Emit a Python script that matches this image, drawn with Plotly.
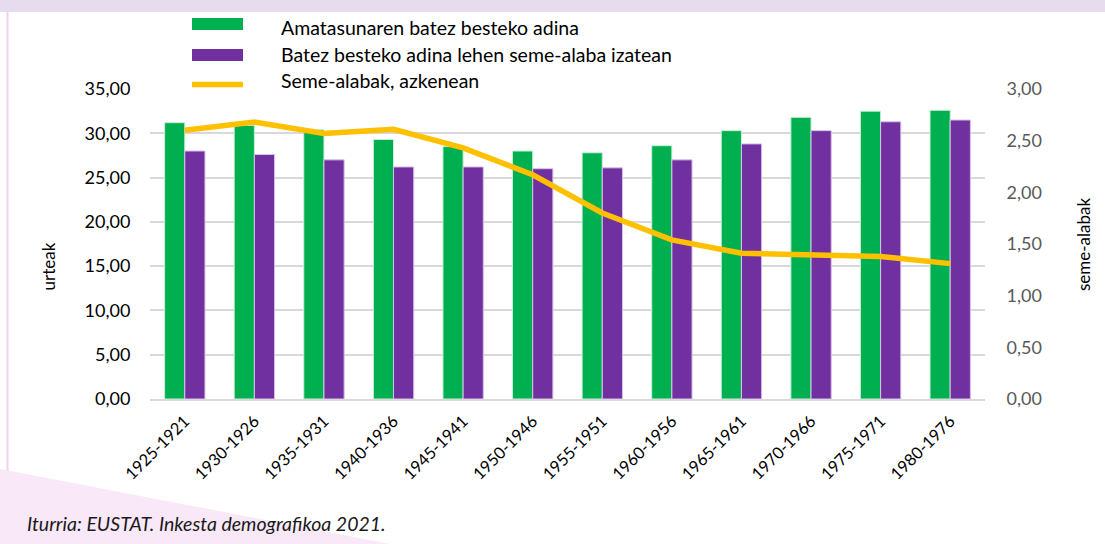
import plotly.graph_objects as go

categories = ["1925-1921", "1930-1926", "1935-1931", "1940-1936", "1945-1941", "1950-1946",
              "1955-1951", "1960-1956", "1965-1961", "1970-1966", "1975-1971", "1980-1976"]
amatasun_adina = [31.2, 30.9, 30.4, 29.3, 28.5, 28.0, 27.8, 28.6, 30.3, 31.8, 32.5, 32.6]
lehen_adina = [28.0, 27.6, 27.0, 26.2, 26.2, 26.0, 26.1, 27.0, 28.8, 30.3, 31.3, 31.5]
seme_alabak = [2.60, 2.68, 2.57, 2.61, 2.43, 2.17, 1.80, 1.54, 1.41, 1.40, 1.38, 1.31]

names = ["Amatasunaren batez besteko adina",
         "Batez besteko adina lehen seme-alaba izatean",
         "Seme-alabak, azkenean"]
GREEN, PURPLE, YELLOW = "#00b050", "#7030a0", "#ffc000"
FONT = "Lato, Open Sans, sans-serif"

fig = go.Figure()
fig.add_trace(go.Bar(x=categories, y=amatasun_adina, name=names[0], marker_color=GREEN,
                     marker_line=dict(color="#c8f0d8", width=1), showlegend=False))
fig.add_trace(go.Bar(x=categories, y=lehen_adina, name=names[1], marker_color=PURPLE,
                     marker_line=dict(color="#d8c0e8", width=1), showlegend=False))
fig.add_trace(go.Scatter(x=categories, y=seme_alabak, name=names[2], yaxis="y2", mode="lines",
                         line=dict(color=YELLOW, width=5.5), showlegend=False))

W, H = 1105, 544
L, R, T, B = 150, 120, 89, 145
pw, ph = W - L - R, H - T - B


def px(x):
    return (x - L) / pw


def py(y):
    return (H - B - y) / ph


shapes = [
    # decorative background
    dict(type="rect", xref="paper", yref="paper", x0=px(0), x1=px(W), y0=py(12), y1=py(0),
         fillcolor="#e7dbee", line_width=0, layer="below"),
    dict(type="line", xref="paper", yref="paper", x0=px(7.5), x1=px(7.5), y0=py(H), y1=py(12),
         line=dict(color="#f2d0f2", width=2), layer="below"),
    dict(type="path", xref="paper", yref="paper",
         path=f"M {px(0)},{py(469)} L {px(390)},{py(H)} L {px(0)},{py(H)} Z",
         fillcolor="#f8e8f8", line_width=0, layer="below"),
    # legend symbols
    dict(type="rect", xref="paper", yref="paper", x0=px(192), x1=px(243), y0=py(30), y1=py(18),
         fillcolor=GREEN, line_width=0),
    dict(type="rect", xref="paper", yref="paper", x0=px(192), x1=px(243), y0=py(61), y1=py(49),
         fillcolor=PURPLE, line_width=0),
    dict(type="line", xref="paper", yref="paper", x0=px(192), x1=px(243), y0=py(84.5), y1=py(84.5),
         line=dict(color=YELLOW, width=5.5)),
]

LEG = 19.5
annotations = [
    dict(text=names[0], x=px(279), y=py(27), xref="paper", yref="paper", xanchor="left",
         yanchor="middle", showarrow=False, font=dict(size=LEG, color="#000000", family=FONT)),
    dict(text=names[1], x=px(279), y=py(54), xref="paper", yref="paper", xanchor="left",
         yanchor="middle", showarrow=False, font=dict(size=LEG, color="#000000", family=FONT)),
    dict(text=names[2], x=px(279), y=py(80), xref="paper", yref="paper", xanchor="left",
         yanchor="middle", showarrow=False, font=dict(size=LEG, color="#000000", family=FONT)),
    dict(text="urteak", x=px(47.5), y=py(267), xref="paper", yref="paper", textangle=-90,
         xanchor="center", yanchor="middle",
         showarrow=False, font=dict(size=17, color="#000000", family=FONT)),
    dict(text="seme-alabak", x=px(1084), y=py(245), xref="paper", yref="paper", textangle=-90,
         xanchor="center", yanchor="middle",
         showarrow=False, font=dict(size=17, color="#000000", family=FONT)),
    dict(text="<i>Iturria: EUSTAT. Inkesta demografikoa 2021.</i>", x=px(25), y=py(523),
         xref="paper", yref="paper", xanchor="left", yanchor="middle", showarrow=False,
         font=dict(size=19.5, color="#1a1a1a", family=FONT)),
]

fig.update_layout(
    width=W, height=H,
    margin=dict(l=L, r=R, t=T, b=B),
    paper_bgcolor="white", plot_bgcolor="white",
    separators=",.",
    barmode="group", bargap=0.42, bargroupgap=0,
    font=dict(family=FONT, size=15, color="#000000"),
    xaxis=dict(tickangle=-45, tickfont=dict(size=16.5, color="#000000"), showgrid=False,
               showline=True, linecolor="#d9d9d9", linewidth=2, ticks="outside",
               ticklen=4, tickcolor="white"),
    yaxis=dict(range=[0, 35], dtick=5, tickformat=".2f", gridcolor="#d9d9d9", gridwidth=1.5,
               zeroline=False, tickfont=dict(size=18, color="#000000"), ticklen=15,
               ticks="outside", tickcolor="white"),
    yaxis2=dict(range=[0, 3], dtick=0.5, tickformat=".2f", overlaying="y", side="right",
                showgrid=False, zeroline=False, tickfont=dict(size=18, color="#595959"),
                ticks="outside", ticklen=17, tickcolor="white"),
    shapes=shapes,
    annotations=annotations,
)

fig.write_html("out.html", config={"displayModeBar": False},
               post_script="document.body.style.margin='0';")
